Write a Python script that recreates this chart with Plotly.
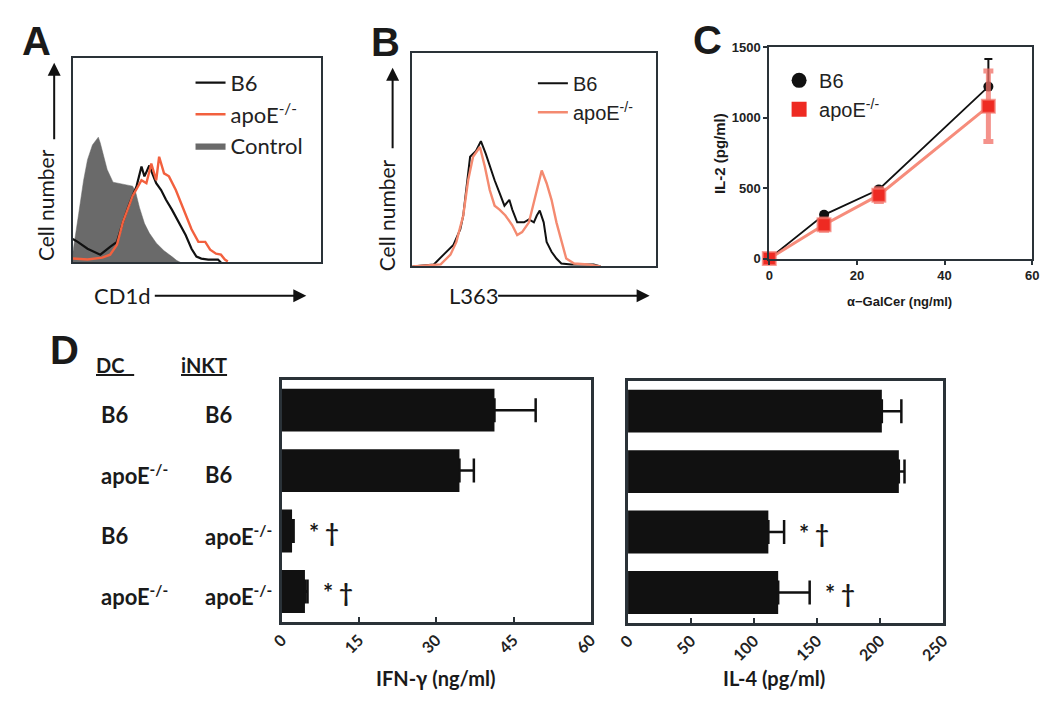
import plotly.graph_objects as go

W, H = 1050, 709


def xd(a, b):
    return [a / W, b / W]


def yd(top, bottom):
    return [1 - bottom / H, 1 - top / H]


def px(x):
    return x / W


def py(y):
    return 1 - y / H


# ---------------- DATA ----------------
# Panel A: CD1d histograms (channel vs. cell count)
a_ctrl_x = [0, 2, 6, 11, 15, 20, 26, 28, 31, 35, 41, 50, 61, 64, 68, 73, 78, 85, 93, 101, 106, 110]
a_ctrl_y = [10, 25, 50, 84, 105, 120, 128, 122, 110, 95, 82, 80, 78, 72, 56, 40, 30, 20, 12, 6, 2, 0]
a_b6_x = [0, 5, 15, 21, 28, 38, 45, 51, 58, 65, 70, 73, 78, 81, 85, 90, 95, 101, 108, 115, 121, 126, 131, 138, 148, 151]
a_b6_y = [24, 21, 14, 11, 8, 16, 21, 41, 61, 78, 98, 88, 99, 91, 81, 74, 64, 54, 41, 28, 14, 6, 4, 3, 3, 0]
a_apo_x = [0, 15, 30, 38, 45, 51, 61, 70, 75, 80, 85, 88, 93, 98, 105, 110, 115, 121, 128, 135, 140, 146, 151, 155, 158]
a_apo_y = [4, 3, 5, 8, 18, 41, 68, 84, 81, 101, 84, 108, 91, 88, 74, 61, 48, 34, 21, 21, 13, 9, 8, 3, 1]

# Panel B: L363 histograms
b_b6_x = [0, 22, 32, 42, 49, 52, 55, 59, 65, 70, 75, 79, 84, 89, 94, 99, 102, 107, 114, 119, 124, 127, 130, 134, 137, 142, 147, 152, 162, 185, 192]
b_b6_y = [0, 2, 12, 22, 38, 52, 78, 112, 118, 128, 115, 102, 88, 75, 62, 68, 58, 45, 45, 48, 45, 52, 57, 45, 25, 15, 8, 3, 2, 2, 0]
b_apo_x = [0, 29, 39, 45, 52, 57, 62, 69, 74, 79, 84, 89, 95, 102, 107, 112, 119, 124, 129, 132, 137, 142, 147, 152, 157, 165, 179, 192]
b_apo_y = [0, 2, 12, 25, 52, 88, 112, 122, 102, 78, 62, 58, 52, 42, 32, 35, 45, 65, 85, 98, 85, 68, 45, 25, 8, 3, 2, 0]

# Panel C: IL-2 vs alpha-GalCer
c_dose = [0, 12.5, 25, 50]
c_b6 = [0, 310, 490, 1220]
c_b6_err = [0, 15, 20, 195]
c_apo = [0, 240, 450, 1080]
c_apo_err = [0, 40, 45, 250]
c_xticks = [0, 20, 40, 60]
c_yticks = [0, 500, 1000, 1500]

# Panel D: co-culture cytokines
dc_labels = ["B6", "apoE<sup>-/-</sup>", "B6", "apoE<sup>-/-</sup>"]
inkt_labels = ["B6", "B6", "apoE<sup>-/-</sup>", "apoE<sup>-/-</sup>"]
rows = [0, 1, 2, 3]
ifn_vals = [41.3, 34.5, 2.0, 4.5]
ifn_err = [8.0, 2.8, 0.3, 0.5]
il4_vals = [201.5, 215.0, 111.4, 119.2]
il4_err = [15.5, 4.5, 12.5, 25.0]
sig_marks = ["", "", "* †", "* †"]
ifn_ticks = [0, 15, 30, 45, 60]
il4_ticks = [0, 50, 100, 150, 200, 250]

# ---------------- STYLE ----------------
BLACK = "#111111"
ORANGE_A = "#f2603e"
ORANGE_B = "#f48a70"
GRAY = "#6a6a6a"
BOX = "#2a3238"
LATO = "Lato, Open Sans, sans-serif"
ARIAL = "Liberation Sans, Arial, sans-serif"
NARROW = "Liberation Sans Narrow, Arial Narrow, Liberation Sans, sans-serif"

fig = go.Figure()

# Panel A
fig.add_trace(go.Scatter(x=a_ctrl_x, y=a_ctrl_y, mode="lines", fill="tozeroy",
                         fillcolor=GRAY, line=dict(color=GRAY, width=0.5),
                         name="Control", legend="legend", legendrank=3,
                         xaxis="x", yaxis="y"))
fig.add_trace(go.Scatter(x=a_b6_x, y=a_b6_y, mode="lines",
                         line=dict(color=BLACK, width=2.2),
                         name="B6", legend="legend", legendrank=1,
                         xaxis="x", yaxis="y"))
fig.add_trace(go.Scatter(x=a_apo_x, y=a_apo_y, mode="lines",
                         line=dict(color=ORANGE_A, width=2.4),
                         name="apoE<sup>-/-</sup>", legend="legend", legendrank=2,
                         xaxis="x", yaxis="y"))

# Panel B
fig.add_trace(go.Scatter(x=b_b6_x, y=b_b6_y, mode="lines",
                         line=dict(color=BLACK, width=2),
                         name="B6", legend="legend2", legendrank=1,
                         xaxis="x2", yaxis="y2"))
fig.add_trace(go.Scatter(x=b_apo_x, y=b_apo_y, mode="lines",
                         line=dict(color=ORANGE_B, width=2.4),
                         name="apoE<sup>-/-</sup>", legend="legend2", legendrank=2,
                         xaxis="x2", yaxis="y2"))

# Panel C
fig.add_trace(go.Scatter(x=c_dose, y=c_b6, mode="lines+markers",
                         line=dict(color=BLACK, width=1.8),
                         marker=dict(symbol="circle", size=10, color=BLACK),
                         error_y=dict(type="data", array=c_b6_err, arrayminus=[0] * 4,
                                      symmetric=False, color=BLACK, thickness=2, width=4),
                         showlegend=False, cliponaxis=False,
                         xaxis="x3", yaxis="y3"))
fig.add_trace(go.Scatter(x=c_dose, y=c_apo, mode="lines+markers",
                         line=dict(color="rgba(244,120,100,0.85)", width=3),
                         marker=dict(symbol="square", size=13, color="#ee2a22",
                                     line=dict(color="rgba(245,120,110,0.7)", width=2)),
                         error_y=dict(type="data", array=c_apo_err,
                                      color="rgba(240,110,100,0.75)", thickness=5, width=5),
                         showlegend=False, cliponaxis=False,
                         xaxis="x3", yaxis="y3"))
# legend entries for C
fig.add_trace(go.Scatter(x=[None], y=[None], mode="markers",
                         marker=dict(symbol="circle", size=15, color=BLACK),
                         name="B6", legend="legend3", xaxis="x3", yaxis="y3"))
fig.add_trace(go.Scatter(x=[None], y=[None], mode="markers",
                         marker=dict(symbol="square", size=15, color="#ee2a22"),
                         name="apoE<sup>-/-</sup>", legend="legend3", xaxis="x3", yaxis="y3"))

# Panel D
err_common = dict(type="data", symmetric=False, arrayminus=[0] * 4,
                  color=BLACK, thickness=2.5, width=12)
fig.add_trace(go.Bar(x=ifn_vals, y=rows, orientation="h", width=0.71,
                     marker=dict(color=BLACK, line=dict(width=0)),
                     error_x=dict(array=ifn_err, **err_common),
                     showlegend=False, xaxis="x4", yaxis="y4"))
fig.add_trace(go.Bar(x=il4_vals, y=rows, orientation="h", width=0.71,
                     marker=dict(color=BLACK, line=dict(width=0)),
                     error_x=dict(array=il4_err, **err_common),
                     showlegend=False, xaxis="x5", yaxis="y5"))

# ---------------- AXES ----------------
box = dict(showline=True, linecolor=BOX, linewidth=2, mirror=True,
           showgrid=False, zeroline=False)
boxd = {**box, "linewidth": 2.5}
hidden = dict(ticks="", showticklabels=False)
cfont = dict(family=NARROW, size=13, color="#222", weight="bold")
dfont = dict(family=LATO, size=16, color="#222", weight="bold")

layout = dict(
    width=W, height=H,
    margin=dict(l=0, r=0, t=0, b=0),
    paper_bgcolor="white", plot_bgcolor="white",
    showlegend=True,
    xaxis=dict(domain=xd(62, 315), range=[0, 253], anchor="y", **box, **hidden),
    yaxis=dict(domain=yd(52, 261), range=[0, 209], anchor="x", **box, **hidden),
    xaxis2=dict(domain=xd(408, 657), range=[0, 249], anchor="y2", **box, **hidden),
    yaxis2=dict(domain=yd(47, 265), range=[0, 218], anchor="x2", **box, **hidden),
    xaxis3=dict(domain=xd(772, 1040), range=[0, 60], tickvals=c_xticks, anchor="y3",
                ticks="outside", ticklen=4, tickwidth=2, tickcolor=BOX,
                tickfont=cfont, **box),
    yaxis3=dict(domain=yd(41, 257), range=[0, 1500], tickvals=c_yticks, anchor="x3",
                ticks="outside", ticklen=4, tickwidth=2, tickcolor=BOX,
                tickfont=cfont, **box),
    xaxis4=dict(domain=xd(275, 590), range=[0, 60], tickvals=ifn_ticks, anchor="y4",
                ticks="inside", ticklen=5, tickwidth=2, tickcolor=BOX, tickangle=-45,
                tickfont=dfont, **boxd),
    yaxis4=dict(domain=yd(381, 628), range=[3.5, -0.5], anchor="x4", **boxd, **hidden),
    xaxis5=dict(domain=xd(628, 949), range=[0, 250], tickvals=il4_ticks, anchor="y5",
                ticks="inside", ticklen=5, tickwidth=2, tickcolor=BOX, tickangle=-45,
                tickfont=dfont, **boxd),
    yaxis5=dict(domain=yd(382, 629), range=[3.5, -0.5], anchor="x5", **boxd, **hidden),
    legend=dict(x=px(182), y=py(56), xanchor="left", yanchor="top",
                font=dict(family=LATO, size=22, color="#222"),
                bgcolor="rgba(0,0,0,0)", tracegroupgap=0),
    legend2=dict(x=px(531), y=py(58), xanchor="left", yanchor="top",
                 font=dict(family=ARIAL, size=20, color="#222"),
                 bgcolor="rgba(0,0,0,0)", tracegroupgap=0),
    legend3=dict(x=px(782), y=py(55), xanchor="left", yanchor="top",
                 font=dict(family=ARIAL, size=20, color="#222"),
                 bgcolor="rgba(0,0,0,0)", tracegroupgap=0),
)

ann = []


def label(text, x, y, size=19, family=LATO, angle=0, anchor="center", bold=False, **kw):
    a = dict(text=text, x=px(x), y=py(y), xref="paper", yref="paper",
             showarrow=False, xanchor=anchor, yanchor="middle", textangle=angle,
             font=dict(family=family, size=size, color="#1a1a1a",
                       weight="bold" if bold else "normal"))
    a.update(kw)
    ann.append(a)


def arrow(hx, hy, ax, ay):
    ann.append(dict(text="", x=px(hx), y=py(hy), xref="paper", yref="paper",
                    showarrow=True, ax=ax, ay=ay, arrowhead=2, arrowsize=1.3,
                    arrowwidth=2, arrowcolor="#111"))


# panel letters
label("A", 25, 35, size=40, family=ARIAL, bold=True)
label("B", 381, 36, size=40, family=ARIAL, bold=True)
label("C", 709, 34, size=40, family=ARIAL, bold=True)
label("D", 54, 350, size=40, family=ARIAL, bold=True)

# panel A axis labels
label("Cell number", 34, 202, size=21, angle=-90)
arrow(43, 57, 0, 78)
label("CD1d", 82, 295, size=22, anchor="left")
arrow(300, 295, -153, 0)

# panel B axis labels
label("Cell number", 382, 213, size=21, angle=-90)
arrow(388, 62, 0, 82)
label("L363", 443, 295, size=22, anchor="left")
arrow(650, 295, -153, 0)

# panel C axis titles
label("IL-2 (pg/ml)", 722, 150, size=15, family=NARROW, angle=-90, bold=True)
label("α−GalCer (ng/ml)", 905, 301, size=13, family=NARROW, bold=True)

# panel D headers
label("<u>DC\u00a0\u00a0</u>", 84, 366, size=20, anchor="left", bold=True)
label("<u>iNKT</u>", 170, 366, size=20, anchor="left", bold=True)

for r, dc, nk in zip(rows, dc_labels, inkt_labels):
    for txt, xx in ((dc, 89), (nk, 195)):
        ann.append(dict(text=txt, x=px(xx), y=r, xref="paper", yref="y4",
                        showarrow=False, xanchor="left", yanchor="middle", yshift=-4,
                        font=dict(family=LATO, size=22, color="#1a1a1a", weight="bold")))

for xa, ya, vals, errs in (("x4", "y4", ifn_vals, ifn_err), ("x5", "y5", il4_vals, il4_err)):
    for r, v, e, s in zip(rows, vals, errs, sig_marks):
        if s:
            ann.append(dict(text=s, x=v + e, y=r, xref=xa, yref=ya, showarrow=False,
                            xanchor="left", yanchor="middle", xshift=13, yshift=-1,
                            font=dict(family=LATO, size=24, color="#1a1a1a", weight="bold")))

label("IFN-γ (ng/ml)", 432, 685, size=20, bold=True)
label("IL-4 (pg/ml)", 777, 685, size=20, bold=True)

layout["annotations"] = ann
fig.update_layout(**layout)

fig.write_html("out.html",
               config={"displayModeBar": False},
               post_script="document.body.style.margin='0';document.body.style.overflow='hidden';")
